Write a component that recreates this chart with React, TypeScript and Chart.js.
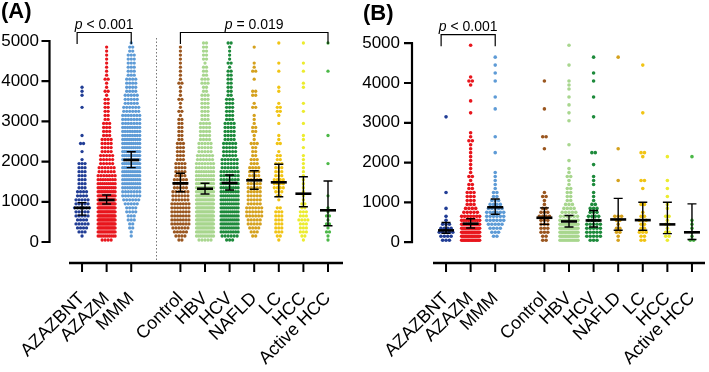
import React, { useEffect, useRef } from "react";
import { Chart, registerables } from "chart.js";
Chart.register(...registerables);

// ---------- DATA ----------
const categories = ["AZAZBNT", "AZAZM", "MMM", "Control", "HBV", "HCV", "NAFLD", "LC", "HCC", "Active HCC"];
const slots = [0, 1, 2, 4, 5, 6, 7, 8, 9, 10];
const colors = ["#213d95", "#e8161d", "#5e9bd6", "#9a561f", "#a8d68e", "#1d8a3b", "#d5a11d", "#f1c414", "#ecec2e", "#4bb847"];
const yTicks = [0, 1000, 2000, 3000, 4000, 5000];
const BIN = 100; // counts per 100-unit bin, 0..5000

// Panel A: counts per bin
const A_AZAZBNT = [0,1,3,4,5,4,5,5,6,5, 5,4,4,3,3,3,3,3,3,3, 1,0,1,0,2,0,1,0,0,0, 0,0,0,1,0,0,1,1,1,0, 0,0,0,0,0,0,0,0,0,0];
const A_AZAZM = [4,10,15,20,22,22,22,20,20,19, 17,14,12,10,9,8,7,6,6,5, 5,5,4,4,4,4,3,3,3,3, 2,2,2,2,2,2,1,2,1,1, 2,1,1,1,1,1,1,1,1,0];
const A_MMM = [0,1,1,2,2,3,3,4,4,5, 6,7,7,8,9,9,10,10,10,10, 10,10,10,9,9,9,8,8,8,7, 7,7,6,6,5,5,5,4,4,4, 4,3,3,3,3,3,3,2,2,1];
const A_Control = [2,4,5,6,7,7,7,7,7,7, 6,6,6,5,5,5,4,4,4,4, 3,3,3,3,3,2,2,2,2,2, 2,1,2,1,1,2,1,1,1,2, 1,1,1,1,1,1,1,1,1,0];
const A_HBV = [5,10,14,16,18,18,19,18,17,15, 14,13,12,11,10,9,8,8,7,7, 6,6,5,5,5,4,4,4,4,4, 3,3,3,3,3,3,3,2,2,3, 3,2,2,2,1,2,2,2,2,2];
const A_HCV = [3,6,8,9,10,10,10,10,10,9, 9,9,8,8,8,7,7,7,6,6, 6,5,5,5,5,4,4,4,4,4, 3,3,3,3,3,3,2,2,2,2, 2,2,2,1,2,1,1,1,1,2];
const A_NAFLD = [0,2,3,4,5,5,6,6,6,5, 5,5,5,5,5,5,4,4,4,3, 3,2,2,2,3,1,1,2,2,1, 1,1,0,2,1,0,2,2,0,0, 1,0,2,1,1,0,0,0,1,0];
const A_LC = [1,2,3,3,3,3,3,3,2,0, 1,2,3,4,4,4,3,3,3,3, 2,2,1,0,2,1,1,0,0,1, 0,1,2,2,1,0,0,1,1,0, 0,0,1,0,1,0,0,0,0,1];
const A_HCC = [1,2,3,3,3,4,3,3,2,2, 1,1,1,1,1,1,1,1,1,1, 1,1,0,1,0,1,1,0,0,1, 0,0,1,0,1,0,0,0,1,1, 0,0,1,0,1,0,0,0,0,1];
const A_ActiveHCC = [1,1,2,1,2,1,2,1,1,0, 0,1,0,0,0,0,0,0,0,1, 0,0,0,0,0,0,1,0,0,0, 0,0,0,0,0,0,0,0,0,0, 0,0,1,0,0,0,0,0,0,1];
const medA = [850, 1045, 2040, 1460, 1326, 1468, 1535, 1485, 1202, 789];
const loA = [670, 945, 1850, 1250, 1194, 1294, 1311, 1127, 878, 405];
const hiA = [980, 1170, 2246, 1710, 1460, 1667, 1774, 1933, 1624, 1517];

// Panel B: counts per bin
const B_AZAZBNT = [3,4,5,4,3,1,1,0,1,0, 0,0,1,0,0,0,0,0,0,0, 0,0,0,0,0,0,0,0,0,0, 0,1,0,0,0,0,0,0,0,0, 0,0,0,0,0,0,0,0,0,0];
const B_AZAZM = [14,16,16,14,12,9,7,5,4,3, 3,3,3,2,2,1,2,1,1,1, 1,1,1,1,1,2,1,1,0,0, 0,0,1,0,0,1,0,0,0,1, 2,1,0,0,0,0,0,0,0,1];
const B_MMM = [0,2,3,4,5,6,6,6,5,4, 3,2,2,1,1,1,1,1,0,0, 0,0,1,0,0,0,1,0,0,0, 0,0,0,1,0,0,1,0,0,0, 1,0,1,0,1,0,1,0,0,0];
const B_Control = [2,2,3,3,3,3,4,3,2,1, 1,2,1,0,0,0,0,0,0,0, 0,0,0,1,0,0,2,0,0,0, 0,0,0,1,0,0,0,0,0,0, 1,0,0,0,0,0,0,0,0,0];
const B_HBV = [10,14,14,12,10,8,6,5,4,3, 2,2,2,2,1,1,2,1,1,0, 1,0,0,0,1,0,0,0,0,0, 1,0,1,0,1,0,1,0,1,1, 1,0,0,0,1,0,0,0,0,1];
const B_HCV = [3,5,5,5,5,4,4,3,3,2, 1,1,1,0,1,1,1,0,0,1, 0,0,2,0,0,0,0,0,0,0, 0,1,0,0,0,0,1,0,0,0, 1,0,1,0,0,0,1,0,0,0];
const B_NAFLD = [1,1,2,2,1,2,3,0,0,0, 0,0,0,0,0,1,0,0,0,0, 0,0,0,1,0,0,0,0,0,0, 0,0,0,0,0,0,0,0,0,0, 0,0,0,0,0,0,1,0,0,0];
const B_LC = [2,2,3,2,2,3,2,1,0,2, 0,0,0,1,0,2,0,0,0,0, 0,1,2,0,0,0,0,0,0,0, 0,0,1,0,0,0,0,0,0,0, 0,0,0,0,1,0,0,0,0,0];
const B_HCC = [1,2,2,1,2,1,2,0,1,1, 0,1,0,1,0,1,0,0,0,0, 0,1,0,0,0,0,0,0,0,0, 0,0,0,0,0,0,0,0,0,0, 0,0,0,0,0,0,0,0,0,0];
const B_ActiveHCC = [2,1,1,1,1,1,0,0,0,0, 0,0,0,0,0,0,0,0,0,0, 0,1,0,0,0,0,0,0,0,0, 0,0,0,0,0,0,0,0,0,0, 0,0,0,0,0,0,0,0,0,0];
const medB = [298, 465, 878, 614, 522, 547, 572, 555, 448, 249];
const loB = [224, 356, 704, 448, 381, 381, 299, 299, 216, 67];
const hiB = [497, 590, 1087, 863, 672, 796, 1102, 1003, 1003, 963];

const bracketsA = [
  { from: -0.2, to: 2, op: "<", val: "0.001" },
  { from: 4, to: 10, op: "=", val: "0.019" },
];
const bracketsB = [{ from: -0.2, to: 2, op: "<", val: "0.001" }];

// ---------- LAYOUT ----------
const FONT = "'Liberation Sans', Arial, Helvetica, sans-serif";
const PX_PER_UNIT = 24.6;
const Y_MIN = -522;

function swarm(counts: number[], slot: number, spacing: number, maxW: number) {
  const pts: { x: number; y: number }[] = [];
  counts.forEach((n, b) => {
    if (!n) return;
    const s = n > 1 ? Math.min(spacing, maxW / (n - 1)) : 0;
    for (let i = 0; i < n; i++) {
      const off = (i - (n - 1) / 2) * s;
      pts.push({ x: slot + off / PX_PER_UNIT, y: b * BIN + BIN / 2 });
    }
  });
  return pts;
}

type Panel = {
  title: string;
  titleX: number;
  titleY: number;
  counts: number[][];
  med: number[];
  lo: number[];
  hi: number[];
  brackets: { from: number; to: number; op: string; val: string }[];
  yWidth: number;
  yPad: number;
  axisGap: number;
  padRight: number;
  xMax: number;
  spacing: number;
  maxW: number;
  r: number;
  separator: boolean;
};

function overlay(p: Panel) {
  return {
    id: "overlay",
    afterDatasetsDraw(chart: any) {
      const { ctx, chartArea, scales } = chart;
      const x = scales.x, y = scales.y;
      ctx.save();
      if (p.separator) {
        const sx = Math.round(x.getPixelForValue(3)) + 0.5;
        ctx.strokeStyle = "#777";
        ctx.lineWidth = 1;
        ctx.setLineDash([1.5, 2]);
        ctx.beginPath();
        ctx.moveTo(sx, chartArea.top - 3);
        ctx.lineTo(sx, chartArea.bottom);
        ctx.stroke();
        ctx.setLineDash([]);
      }
      ctx.strokeStyle = "#000";
      p.med.forEach((m, i) => {
        const cx = x.getPixelForValue(slots[i]);
        const ym = y.getPixelForValue(m);
        const yl = y.getPixelForValue(p.lo[i]);
        const yh = y.getPixelForValue(p.hi[i]);
        ctx.lineWidth = 1.4;
        ctx.beginPath();
        ctx.moveTo(cx, yh); ctx.lineTo(cx, yl);
        ctx.moveTo(cx - 4.5, yh); ctx.lineTo(cx + 4.5, yh);
        ctx.moveTo(cx - 4.5, yl); ctx.lineTo(cx + 4.5, yl);
        ctx.stroke();
        ctx.lineWidth = 2.6;
        ctx.beginPath();
        ctx.moveTo(cx - 8, ym); ctx.lineTo(cx + 8, ym);
        ctx.stroke();
      });
      const ax = chartArea.left - p.axisGap;
      const y0 = y.getPixelForValue(0), y5 = y.getPixelForValue(5000);
      ctx.lineWidth = 2.2;
      ctx.beginPath();
      ctx.moveTo(ax, y0 + 1); ctx.lineTo(ax, y5 - 1);
      yTicks.forEach((t) => {
        const ty = y.getPixelForValue(t);
        ctx.moveTo(ax - 8, ty); ctx.lineTo(ax + 1, ty);
      });
      ctx.stroke();
      const bx = chartArea.bottom;
      ctx.lineWidth = 2.6;
      ctx.beginPath();
      ctx.moveTo(chartArea.left, bx); ctx.lineTo(chartArea.right, bx);
      ctx.stroke();
      ctx.lineWidth = 2;
      ctx.beginPath();
      slots.forEach((s) => {
        const tx = x.getPixelForValue(s);
        ctx.moveTo(tx, bx); ctx.lineTo(tx, bx + 9);
      });
      ctx.stroke();
      ctx.lineWidth = 1.2;
      ctx.fillStyle = "#000";
      p.brackets.forEach((b) => {
        const x1 = x.getPixelForValue(b.from), x2 = x.getPixelForValue(b.to);
        const top = chartArea.top - 8.5;
        const bot = chartArea.top + 3;
        ctx.beginPath();
        ctx.moveTo(x1, bot); ctx.lineTo(x1, top); ctx.lineTo(x2, top); ctx.lineTo(x2, bot);
        ctx.stroke();
        const rest = " " + b.op + " " + b.val;
        ctx.font = "italic 14px " + FONT;
        const wp = ctx.measureText("p").width;
        ctx.font = "14px " + FONT;
        const wr = ctx.measureText(rest).width;
        const start = (x1 + x2) / 2 - (wp + wr) / 2;
        ctx.textBaseline = "alphabetic";
        ctx.textAlign = "left";
        ctx.font = "italic 14px " + FONT;
        ctx.fillText("p", start, chartArea.top - 12.5);
        ctx.font = "14px " + FONT;
        ctx.fillText(rest, start + wp, chartArea.top - 12.5);
      });
      ctx.font = "bold 22px " + FONT;
      ctx.textAlign = "left";
      ctx.textBaseline = "alphabetic";
      ctx.fillText(p.title, p.titleX, p.titleY);
      ctx.restore();
    },
  };
}

function makeChart(canvas: HTMLCanvasElement, p: Panel) {
  return new Chart(canvas, {
    type: "scatter",
    data: {
      datasets: p.counts.map((c, i) => ({
        data: swarm(c, slots[i], p.spacing, p.maxW),
        backgroundColor: colors[i],
        borderWidth: 0,
        pointRadius: p.r,
        pointHoverRadius: p.r,
        clip: false as any,
      })),
    },
    options: {
      animation: false,
      responsive: false,
      devicePixelRatio: 1,
      events: [],
      layout: { padding: { top: 41, right: p.padRight, left: 0, bottom: 0 } },
      plugins: { legend: { display: false }, tooltip: { enabled: false } },
      scales: {
        x: {
          type: "linear",
          min: -0.53,
          max: p.xMax,
          grid: { display: false, drawTicks: false },
          border: { display: false },
          afterBuildTicks: (s: any) => { s.ticks = slots.map((v) => ({ value: v })); },
          afterFit: (s: any) => { s.height = 109; s.paddingLeft = 0; s.paddingRight = 0; },
          ticks: {
            autoSkip: false,
            minRotation: 45,
            maxRotation: 45,
            padding: 25,
            color: "#000",
            font: { family: FONT, size: 18 },
            callback: (v: any) => categories[slots.indexOf(Number(v))] ?? "",
          },
        },
        y: {
          type: "linear",
          min: Y_MIN,
          max: 5000,
          grid: { display: false, drawTicks: false },
          border: { display: false },
          afterBuildTicks: (s: any) => { s.ticks = yTicks.map((v) => ({ value: v })); },
          afterFit: (s: any) => { s.width = p.yWidth; },
          ticks: {
            padding: p.yPad,
            color: "#000",
            font: { family: FONT, size: 17 },
            callback: (v: any) => String(v),
          },
        },
      },
    } as any,
    plugins: [overlay(p) as any],
  });
}

const panelA: Panel = {
  title: "(A)", titleX: 1, titleY: 18,
  counts: [A_AZAZBNT, A_AZAZM, A_MMM, A_Control, A_HBV, A_HCV, A_NAFLD, A_LC, A_HCC, A_ActiveHCC],
  med: medA, lo: loA, hi: hiA, brackets: bracketsA,
  yWidth: 69, yPad: 30, axisGap: 19.5, padRight: 17, xMax: 10.61,
  spacing: 3, maxW: 17, r: 1.65, separator: true,
};
const panelB: Panel = {
  title: "(B)", titleX: 3, titleY: 20,
  counts: [B_AZAZBNT, B_AZAZM, B_MMM, B_Control, B_HBV, B_HCV, B_NAFLD, B_LC, B_HCC, B_ActiveHCC],
  med: medB, lo: loB, hi: hiB, brackets: bracketsB,
  yWidth: 73, yPad: 33, axisGap: 21, padRight: 4, xMax: 10.53,
  spacing: 3.4, maxW: 18, r: 1.8, separator: false,
};

export default function App() {
  const refA = useRef<HTMLCanvasElement>(null);
  const refB = useRef<HTMLCanvasElement>(null);
  useEffect(() => {
    const a = makeChart(refA.current!, panelA);
    const b = makeChart(refB.current!, panelB);
    return () => { a.destroy(); b.destroy(); };
  }, []);
  return (
    <div style={{ position: "absolute", left: 0, top: 0, width: 709, height: 372, background: "#fff" }}>
      <canvas ref={refA} width={360} height={372} style={{ position: "absolute", left: 0, top: 0 }} />
      <canvas ref={refB} width={349} height={372} style={{ position: "absolute", left: 360, top: 0 }} />
    </div>
  );
}
